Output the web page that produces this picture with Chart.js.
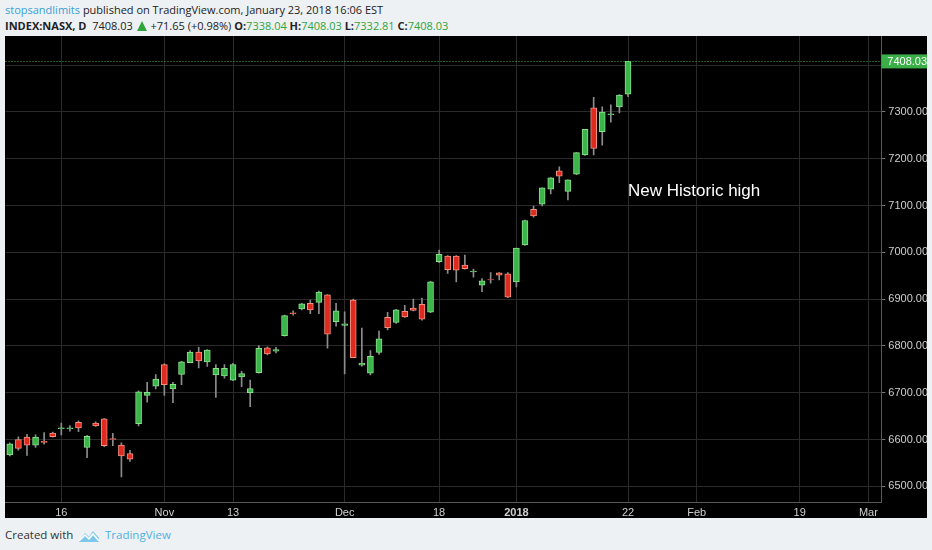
<!DOCTYPE html>
<html>
<head>
<meta charset="utf-8">
<script src="https://cdn.jsdelivr.net/npm/chart.js@4.4.1/dist/chart.umd.min.js"></script>
<style>
  html, body { margin: 0; padding: 0; width: 932px; height: 550px; overflow: hidden; background: #eef1f4; font-family: "Open Sans", sans-serif; }
  .head { position: absolute; left: 5px; color: #222; font-size: 11px; line-height: 16px; white-space: nowrap; }
  .l1 { top: 2px; }
  .l2 { top: 18px; }
  .user { color: #3a9fd6; }
  .b { font-weight: bold; }
  .g { color: #2fa43c; }
  .tri { display: inline-block; width: 0; height: 0; border-left: 5px solid transparent; border-right: 5px solid transparent; border-bottom: 10px solid #2fa43c; vertical-align: -1px; margin: 0 1px; }
  #box { position: absolute; left: 5px; top: 36px; width: 922px; height: 482px; background: #000; }
  #chart { position: absolute; left: 0; top: -3px; }
  .foot { position: absolute; left: 5px; top: 527px; font-size: 11.5px; color: #333; white-space: nowrap; }
  .foot svg { position: absolute; left: 73px; top: 2px; }
  .foot .tv { position: absolute; left: 100px; top: 0; color: #4fb0e3; font-size: 11.5px; }
</style>
</head>
<body>
<div class="head l1"><span class="user">stopsandlimits</span> published on TradingView.com, January 23, 2018 16:06 EST</div>
<div class="head l2"><span class="b">INDEX:NASX, D</span>&nbsp; 7408.03 <span class="tri"></span> +71.65 (+0.98%) <span class="b">O:</span><span class="g">7338.04</span> <span class="b">H:</span><span class="g">7408.03</span> <span class="b">L:</span><span class="g">7332.81</span> <span class="b">C:</span><span class="g">7408.03</span></div>
<div id="box"><canvas id="chart" width="922" height="485"></canvas></div>
<div class="foot">Created with
  <svg width="22" height="14" viewBox="0 0 22 14"><path d="M1 12 L7 4 L11 8 L15 2 L21 9 L21 13 L1 13 Z" fill="#7cc7ec"/><path d="M1 12 L7 6 L11 10 L15 5 L21 12" stroke="#fff" stroke-width="1.5" fill="none"/></svg>
  <span class="tv">TradingView</span></div>
<script>
// trading days shown, then empty future days on the axis
var days = ["2017-10-06","2017-10-09","2017-10-10","2017-10-11","2017-10-12","2017-10-13",
  "2017-10-16","2017-10-17","2017-10-18","2017-10-19","2017-10-20",
  "2017-10-23","2017-10-24","2017-10-25","2017-10-26","2017-10-27",
  "2017-10-30","2017-10-31","2017-11-01","2017-11-02","2017-11-03",
  "2017-11-06","2017-11-07","2017-11-08","2017-11-09","2017-11-10",
  "2017-11-13","2017-11-14","2017-11-15","2017-11-16","2017-11-17",
  "2017-11-20","2017-11-21","2017-11-22","2017-11-24",
  "2017-11-27","2017-11-28","2017-11-29","2017-11-30","2017-12-01",
  "2017-12-04","2017-12-05","2017-12-06","2017-12-07","2017-12-08",
  "2017-12-11","2017-12-12","2017-12-13","2017-12-14","2017-12-15",
  "2017-12-18","2017-12-19","2017-12-20","2017-12-21","2017-12-22",
  "2017-12-26","2017-12-27","2017-12-28","2017-12-29",
  "2018-01-02","2018-01-03","2018-01-04","2018-01-05",
  "2018-01-08","2018-01-09","2018-01-10","2018-01-11","2018-01-12",
  "2018-01-16","2018-01-17","2018-01-18","2018-01-19","2018-01-22"];
var futureDays = ["2018-01-23","2018-01-24","2018-01-25","2018-01-26",
  "2018-01-29","2018-01-30","2018-01-31","2018-02-01","2018-02-02",
  "2018-02-05","2018-02-06","2018-02-07","2018-02-08","2018-02-09",
  "2018-02-12","2018-02-13","2018-02-14","2018-02-15","2018-02-16",
  "2018-02-19","2018-02-20","2018-02-21","2018-02-22","2018-02-23",
  "2018-02-26","2018-02-27","2018-02-28","2018-03-01","2018-03-02"];

var opens = [6567,6600,6605,6588,6596,6614, 6623,6623,6637,6583,6635, 6644,6602,6588,6570,6634,
  6694,6714,6760,6708,6739, 6764,6787,6766,6738,6736, 6727,6734,6700,6743,6796,
  6789,6822,6871,6879, 6891,6893,6909,6852,6844, 6898,6759,6742,6786,6861,
  6850,6874,6881,6889,6872, 6980,6992,6992,6973,6958, 6930,6942,6956,6954,
  6937,7016,7092,7103, 7135,7174,7130,7167,7208, 7309,7258,7294,7311,7338.04];
var highs = [6593,6606,6611,6610,6615,6616, 6635,6630,6640,6609,6638, 6645,6613,6593,6577,6704,
  6722,6739,6762,6722,6767, 6790,6797,6792,6760,6760, 6763,6746,6727,6801,6798,
  6797,6866,6875,6891, 6898,6917,6910,6891,6873, 6900,6838,6790,6832,6872,
  6878,6887,6900,6902,6938, 7005,6993,6993,6994,6964, 6944,6957,6957,6957,
  7009,7069,7099,7138, 7160,7183,7155,7213,7263, 7331,7311,7315,7337,7408.03];
var lows = [6565,6577,6566,6583,6590,6605, 6610,6618,6617,6561,6628, 6585,6587,6520,6553,6629,
  6680,6708,6694,6679,6717, 6764,6753,6756,6690,6731, 6726,6713,6670,6742,6781,
  6785,6821,6866,6877, 6869,6869,6795,6842,6740, 6775,6757,6738,6782,6834,
  6848,6861,6875,6855,6871, 6978,6955,6937,6964,6947, 6916,6934,6941,6903,
  6926,7015,7075,7099, 7125,7149,7112,7166,7207, 7208,7229,7278,7298,7332.81];
var closes = [6591,6581,6588,6605,6594,6606, 6625,6625,6625,6607,6629, 6587,6600,6565,6558,6702,
  6701,6729,6717,6718,6766, 6787,6768,6791,6752,6752, 6760,6741,6709,6795,6783,
  6792,6865,6869,6890, 6877,6915,6825,6875,6847, 6775,6763,6778,6815,6839,
  6877,6862,6876,6857,6937, 6996,6963,6962,6965,6960, 6939,6941,6951,6904,
  7009,7068,7078,7138, 7159,7163,7155,7213,7263, 7222,7300,7296,7336,7408.03];

var priceTicks = [6500, 6600, 6700, 6800, 6900, 7000, 7100, 7200, 7300, 7400];
var tickDays = ["2017-10-16","2017-11-01","2017-11-13","2017-12-01","2017-12-18",
  "2018-01-02","2018-01-22","2018-02-01","2018-02-19","2018-03-01"];
var tickTexts = ["16","Nov","13","Dec","18","2018","22","Feb","19","Mar"];
var lastClose = 7408.03;
var noteText = "New Historic high";

var labels = days.concat(futureDays);
var tickAt = {};
tickDays.forEach(function(d, k) { tickAt[labels.indexOf(d)] = tickTexts[k]; });

var up = closes.map(function(c, i) { return c >= opens[i]; });
var axisFont = '"Liberation Sans", Arial, sans-serif';

var overlay = {
  id: 'overlay',
  afterDatasetsDraw: function(chart) {
    var ctx = chart.ctx, a = chart.chartArea;
    var y = chart.scales.y.getPixelForValue(lastClose);
    ctx.save();
    ctx.strokeStyle = '#3fae49';
    ctx.lineWidth = 1;
    ctx.setLineDash([1, 2]);
    ctx.beginPath();
    ctx.moveTo(a.left, Math.round(y) + 0.5);
    ctx.lineTo(a.right, Math.round(y) + 0.5);
    ctx.stroke();
    ctx.setLineDash([]);
    ctx.fillStyle = '#fff';
    ctx.font = '17px ' + axisFont;
    ctx.textBaseline = 'middle';
    ctx.fillText(noteText, chart.scales.x.getPixelForValue(days.length - 1), chart.scales.y.getPixelForValue(7131));
    ctx.restore();
  },
  afterDraw: function(chart) {
    var ctx = chart.ctx, a = chart.chartArea;
    var y = chart.scales.y.getPixelForValue(lastClose);
    ctx.save();
    ctx.fillStyle = '#3aae47';
    ctx.fillRect(a.right, y - 7, chart.width - a.right, 14);
    ctx.fillStyle = '#fff';
    ctx.font = '11px ' + axisFont;
    ctx.textBaseline = 'middle';
    ctx.fillText(lastClose.toFixed(2), a.right + 6, y + 0.5);
    ctx.restore();
  }
};

var chart = new Chart(document.getElementById('chart'), {
  type: 'bar',
  data: {
    labels: labels,
    datasets: [{
      label: 'wick',
      data: lows.map(function(l, i) { return [l, highs[i]]; }),
      backgroundColor: '#8c8c8c',
      barThickness: 1,
      grouped: false,
      order: 2
    }, {
      label: 'body',
      data: opens.map(function(o, i) { return [o, closes[i]]; }),
      backgroundColor: up.map(function(u) { return u ? '#3bb54a' : '#df2a1f'; }),
      borderColor: up.map(function(u) { return u ? '#8be08c' : '#f4917f'; }),
      borderWidth: 1,
      borderSkipped: false,
      barThickness: 6,
      grouped: false,
      order: 1
    }]
  },
  options: {
    responsive: false,
    animation: false,
    layout: { padding: { left: 0.5, top: 0, right: 0, bottom: 0 } },
    plugins: { legend: { display: false }, tooltip: { enabled: false } },
    scales: {
      x: {
        offset: true,
        grid: {
          offset: false,
          drawTicks: false,
          color: function(c) { return tickAt[c.index] !== undefined ? '#2b2b2b' : 'rgba(0,0,0,0)'; }
        },
        border: { color: '#5a5a5a' },
        ticks: {
          autoSkip: false,
          maxRotation: 0,
          padding: 4,
          color: '#cfcfcf',
          font: function(c) {
            return { family: axisFont, size: 11, weight: tickAt[c.index] === '2018' ? 'bold' : 'normal' };
          },
          callback: function(v, i) { return tickAt[i] || ''; }
        },
        afterFit: function(s) { s.height = 16; }
      },
      y: {
        position: 'right',
        min: 6466.5,
        max: 7462.2,
        grid: { color: '#2b2b2b', tickColor: '#777', tickLength: 4 },
        border: { color: '#5a5a5a' },
        ticks: {
          padding: 3,
          color: '#cfcfcf',
          font: { family: axisFont, size: 11, lineHeight: 0.01 },
          callback: function(v) { return Math.abs(v - lastClose) < 20 ? '' : v.toFixed(2); }
        },
        afterBuildTicks: function(s) { s.ticks = priceTicks.map(function(v) { return { value: v }; }); },
        afterFit: function(s) { s.width = 45.7; }
      }
    }
  },
  plugins: [overlay]
});
</script>
</body>
</html>
